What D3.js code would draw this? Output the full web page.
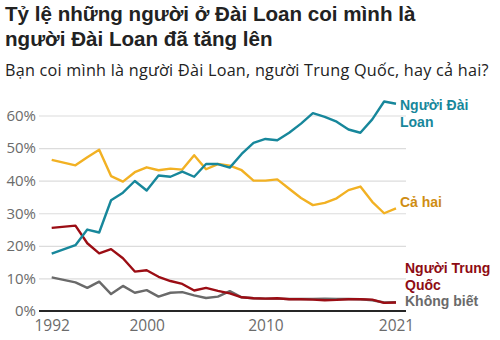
<!DOCTYPE html>
<html>
<head>
<meta charset="utf-8">
<script src="https://cdn.jsdelivr.net/npm/d3@7"></script>
<style>
  html, body { margin: 0; padding: 0; background: #fff; }
  svg { display: block; }
</style>
</head>
<body>
<svg id="chart" width="500" height="340"></svg>
<script>
// Survey years (no survey in 1993)
const years = [1992, 1994, 1995, 1996, 1997, 1998, 1999, 2000, 2001, 2002, 2003, 2004, 2005, 2006,
  2007, 2008, 2009, 2010, 2011, 2012, 2013, 2014, 2015, 2016, 2017, 2018, 2019, 2020, 2021];

// Share of respondents (%) by self-identification
const taiwanese = [17.6, 20.2, 25.0, 24.1, 34.0, 36.3, 39.9, 37.0, 41.6, 41.2, 42.8, 41.2, 45.1, 45.1,
  44.0, 48.2, 51.6, 52.8, 52.4, 54.7, 57.5, 60.7, 59.6, 58.1, 55.7, 54.7, 58.8, 64.3, 63.6];
const both = [46.4, 44.7, 47.2, 49.5, 41.4, 39.7, 42.6, 44.1, 43.2, 43.7, 43.4, 47.8, 43.5, 45.1,
  44.6, 43.2, 40.0, 40.0, 40.4, 37.5, 34.7, 32.5, 33.2, 34.6, 37.1, 38.2, 33.5, 30.0, 31.5];
const chinese = [25.5, 26.2, 20.8, 17.7, 19.0, 16.2, 12.1, 12.5, 10.5, 9.2, 8.3, 6.3, 7.1, 6.2,
  5.4, 4.2, 3.9, 3.8, 3.9, 3.6, 3.6, 3.5, 3.3, 3.4, 3.6, 3.6, 3.5, 2.5, 2.6];
const unknown = [10.3, 8.8, 7.1, 9.0, 5.2, 7.7, 5.6, 6.4, 4.4, 5.6, 5.8, 4.8, 4.0, 4.4,
  6.1, 4.2, 3.9, 3.8, 3.8, 3.7, 3.7, 3.7, 3.8, 3.7, 3.7, 3.6, 3.3, 2.6, 2.7];

const yTicks = [0, 10, 20, 30, 40, 50, 60];
const xTicks = [1992, 2000, 2010, 2021];

const titleLines = ["Tỷ lệ những người ở Đài Loan coi mình là", "người Đài Loan đã tăng lên"];
const subtitle = "Bạn coi mình là người Đài Loan, người Trung Quốc, hay cả hai?";

const svg = d3.select("#chart");
const fontMain = "'Liberation Sans', Arial, sans-serif";
const fontAlt = "'Open Sans', 'Noto Sans', sans-serif";

// Title and subtitle
svg.selectAll("text.title").data(titleLines).join("text")
  .attr("class", "title")
  .attr("x", 5).attr("y", (d, i) => 21 + i * 25)
  .attr("font-family", fontMain).attr("font-weight", "bold")
  .attr("font-size", 20.6).attr("fill", "#222")
  .text(d => d);

svg.append("text")
  .attr("x", 5).attr("y", 75.5)
  .attr("font-family", fontAlt).attr("font-size", 16.2)
  .attr("letter-spacing", 0.25).attr("fill", "#222")
  .text(subtitle);

// Scales
const x = d3.scaleLinear().domain([1992, 2021]).range([51.7, 396]);
const y = d3.scaleLinear().domain([0, 60]).range([311, 115.5]);
const gridLeft = 39, gridRight = 406;

// Gridlines and y labels
const yAxis = d3.axisLeft(y).tickValues(yTicks).tickSize(-(gridRight - gridLeft))
  .tickFormat(d => d + "%").tickPadding(3);
const gy = svg.append("g").attr("transform", `translate(${gridLeft},0)`).call(yAxis);
gy.select(".domain").remove();
gy.selectAll(".tick line").attr("stroke", "#dcdcdc").attr("stroke-width", 1.2);
gy.selectAll(".tick text").attr("font-family", fontAlt).attr("font-size", 15)
  .attr("fill", "#6b6b6b");

// x labels
const xAxis = d3.axisBottom(x).tickValues(xTicks).tickFormat(d3.format("d")).tickSize(0).tickPadding(9);
const gx = svg.append("g").attr("transform", `translate(0,${y(0)})`).call(xAxis);
gx.select(".domain").remove();
gx.selectAll(".tick text").attr("font-family", fontAlt).attr("font-size", 15.5)
  .attr("fill", "#6b6b6b");

// Lines
const seriesData = [
  { values: unknown, color: "#6a6a6a" },
  { values: chinese, color: "#9b0d14" },
  { values: both, color: "#f2b123" },
  { values: taiwanese, color: "#17879b" }
];
const line = d3.line().x((d, i) => x(years[i])).y(d => y(d));
svg.append("g").selectAll("path").data(seriesData).join("path")
  .attr("d", d => line(d.values))
  .attr("fill", "none")
  .attr("stroke", d => d.color)
  .attr("stroke-width", 2.4)
  .attr("stroke-linejoin", "round");

// Baseline
svg.append("line")
  .attr("x1", gridLeft).attr("x2", gridRight)
  .attr("y1", y(0)).attr("y2", y(0))
  .attr("stroke", "#262626").attr("stroke-width", 2);

// Series labels
const labels = [
  { lines: ["Người Đài", "Loan"], x0: 400, y0: 110, color: "#17879b" },
  { lines: ["Cả hai"], x0: 400, y0: 207, color: "#cf8d12" },
  { lines: ["Người Trung", "Quốc"], x0: 405, y0: 273, color: "#8e0c13" },
  { lines: ["Không biết"], x0: 405, y0: 306, color: "#6a6a6a" }
];
labels.forEach(l => {
  svg.append("g").selectAll("text").data(l.lines).join("text")
    .attr("x", l.x0).attr("y", (d, i) => l.y0 + i * 16.5)
    .attr("font-family", fontMain).attr("font-weight", "bold")
    .attr("font-size", 14).attr("fill", l.color)
    .text(d => d);
});
</script>
</body>
</html>
